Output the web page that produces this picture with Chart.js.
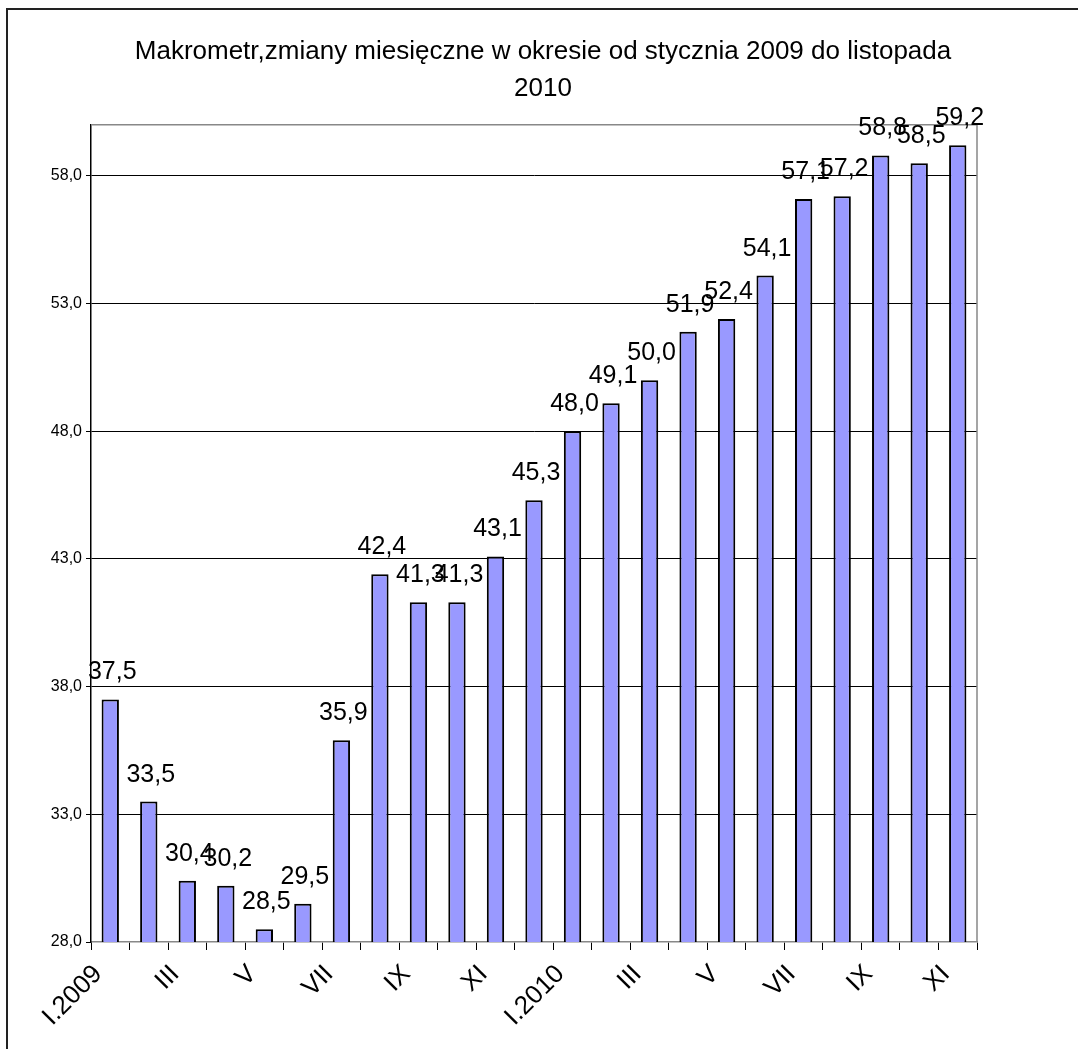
<!DOCTYPE html>
<html>
<head>
<meta charset="utf-8">
<script src="https://cdn.jsdelivr.net/npm/chart.js@4.4.1/dist/chart.umd.min.js"></script>
<style>
  html, body { margin: 0; padding: 0; background: #fff; overflow: hidden; }
  #wrap { position: relative; width: 1078px; height: 1049px; }
  #frame { position: absolute; left: 6px; top: 8px; width: 1200px; height: 1200px; border: 2px solid #222; }
  canvas { position: absolute; left: 0; top: 0; }
</style>
</head>
<body>
<div id="wrap">
  <div id="frame"></div>
  <canvas id="myChart" width="1078" height="1049"></canvas>
</div>
<script>
// months I.2009 .. XI.2010
const months = ['I.2009', 'II', 'III', 'IV', 'V', 'VI', 'VII', 'VIII', 'IX', 'X', 'XI', 'XII',
  'I.2010', 'II', 'III', 'IV', 'V', 'VI', 'VII', 'VIII', 'IX', 'X', 'XI'];
const makrometr = [37.5, 33.5, 30.4, 30.2, 28.5, 29.5, 35.9, 42.4, 41.3, 41.3, 43.1, 45.3,
  48.0, 49.1, 50.0, 51.9, 52.4, 54.1, 57.1, 57.2, 58.8, 58.5, 59.2];
const yTicks = [28, 33, 38, 43, 48, 53, 58];
const titleLines = ['Makrometr,zmiany miesięczne w okresie od stycznia 2009 do listopada', '2010'];

const fmt = (v) => v.toFixed(1).replace('.', ',');
const FONT = "'Liberation Sans', Arial, sans-serif";

// values above the bars
const barLabels = {
  id: 'barLabels',
  afterDatasetsDraw(chart) {
    const ctx = chart.ctx;
    const meta = chart.getDatasetMeta(0);
    ctx.save();
    ctx.font = '25px ' + FONT;
    ctx.fillStyle = '#000';
    ctx.textAlign = 'center';
    ctx.textBaseline = 'alphabetic';
    meta.data.forEach((bar, i) => {
      ctx.fillText(fmt(makrometr[i]), bar.x + 2, bar.y - 20);
    });
    ctx.restore();
  }
};

// grey top and right edge of the plot
const plotEdge = {
  id: 'plotEdge',
  beforeDatasetsDraw(chart) {
    const { ctx, chartArea: a } = chart;
    ctx.save();
    ctx.strokeStyle = '#888';
    ctx.lineWidth = 1.5;
    ctx.beginPath();
    ctx.moveTo(a.left, a.top);
    ctx.lineTo(a.right, a.top);
    ctx.lineTo(a.right, a.bottom);
    ctx.stroke();
    ctx.restore();
  }
};

new Chart(document.getElementById('myChart'), {
  type: 'bar',
  data: {
    labels: months,
    datasets: [{
      data: makrometr,
      backgroundColor: '#9999ff',
      borderColor: '#000',
      borderWidth: 2,
      barPercentage: 0.45,
      categoryPercentage: 1.0
    }]
  },
  options: {
    responsive: false,
    animation: false,
    layout: { padding: { left: 8, right: 0, top: 0, bottom: 7 } },
    plugins: {
      legend: { display: false },
      tooltip: { enabled: false },
      title: {
        display: true,
        text: titleLines,
        color: '#000',
        font: { family: FONT, size: 26, weight: 'normal', lineHeight: 1.42 },
        padding: { top: 33, bottom: 18 }
      }
    },
    scales: {
      x: {
        offset: true,
        grid: { offset: true, drawOnChartArea: false, color: '#000', tickLength: 8 },
        border: { color: '#888', width: 1.5 },
        ticks: {
          autoSkip: false,
          minRotation: 45,
          maxRotation: 45,
          color: '#000',
          labelOffset: -12,
          padding: 9,
          font: { family: FONT, size: 26 },
          callback: (val, i) => (i % 2 === 0 ? months[i] : '')
        },
        afterFit: (s) => { s.height = 100; }
      },
      y: {
        min: 28,
        max: 60,
        afterBuildTicks: (s) => { s.ticks = yTicks.map(v => ({ value: v })); },
        grid: {
          color: (c) => (c.tick && c.tick.value === 28 ? 'rgba(0,0,0,0)' : '#000'),
          tickColor: '#000',
          tickLength: 5,
          lineWidth: 1
        },
        border: { color: '#000', width: 1.5 },
        ticks: {
          color: '#000',
          padding: 4,
          font: { family: FONT, size: 16 },
          callback: (v) => fmt(v)
        },
        afterFit: (s) => { s.width = 83; }
      },
      // empty strip on the right, keeps the title centred on the page
      yRight: {
        position: 'right',
        grid: { display: false },
        border: { display: false },
        ticks: { display: false },
        afterFit: (s) => { s.width = 101; }
      }
    }
  },
  plugins: [barLabels, plotEdge]
});
</script>
</body>
</html>
